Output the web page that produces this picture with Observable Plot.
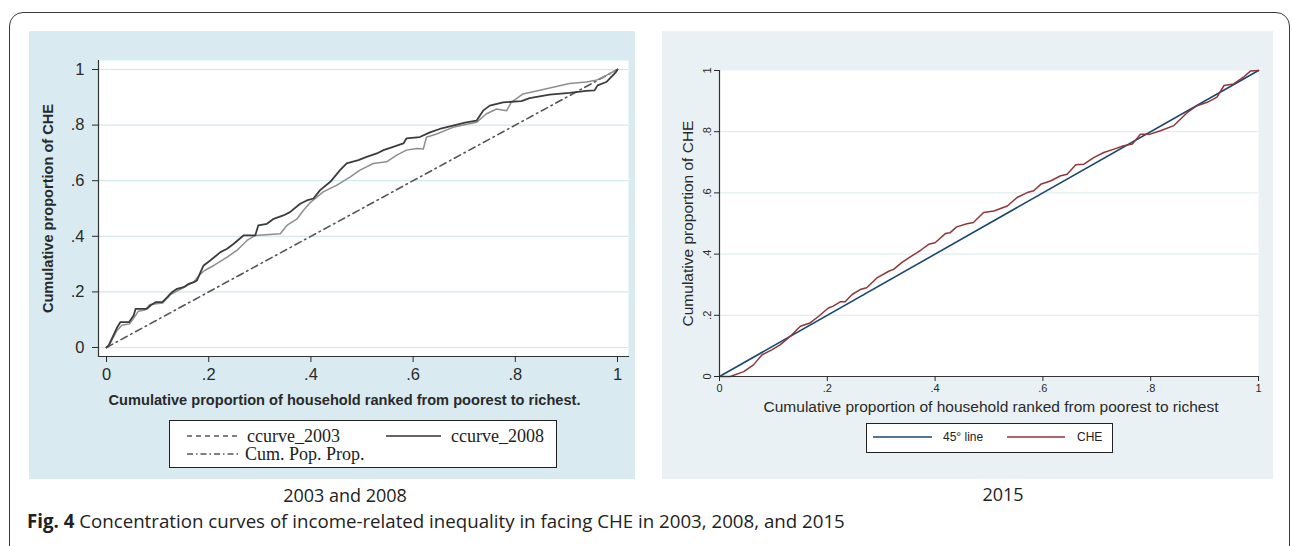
<!DOCTYPE html>
<html>
<head>
<meta charset="utf-8">
<script src="https://cdn.jsdelivr.net/npm/d3@7"></script>
<script src="https://cdn.jsdelivr.net/npm/@observablehq/plot@0.6"></script>
<style>
  body { margin: 0; background: #fff; }
  #page { position: relative; width: 1292px; height: 546px; overflow: hidden; background: #fff; }
  .outer { position: absolute; left: 9px; top: 12px; width: 1281px; height: 620px; border: 1.5px solid #3a3a3a; border-radius: 14px; box-sizing: border-box; }
  .panel { position: absolute; }
  .panel svg { display: block; }
  .legend { position: absolute; background: #fff; border: 1.5px solid #222; box-sizing: border-box; }
  .sub { position: absolute; font-family: "Open Sans", sans-serif; font-size: 18px; color: #222; transform: translate(-50%, -50%); white-space: nowrap; }
  .caption { position: absolute; left: 27px; top: 508px; font-family: "Open Sans", sans-serif; font-size: 18.7px; color: #222; white-space: nowrap; }
</style>
</head>
<body>
<div id="page">
  <div class="outer"></div>
  <div id="left" class="panel" style="left:29px;top:31px;width:606px;height:448px;background:#d9ebf0"></div>
  <div id="right" class="panel" style="left:662px;top:31px;width:611px;height:448px;background:#e9f1f4"></div>
  <div id="legendLeft" class="legend" style="left:169px;top:420px;width:388px;height:48px"></div>
  <div id="legendRight" class="legend" style="left:866px;top:423px;width:247px;height:30px"></div>
  <div class="sub" style="left:345px;top:495px">2003 and 2008</div>
  <div class="sub" style="left:1003px;top:494px">2015</div>
  <div class="caption"><b>Fig. 4</b> Concentration curves of income-related inequality in facing CHE in 2003, 2008, and 2015</div>
</div>
<script>
// Axis ticks shared by both panels
const ticks = [0, 0.2, 0.4, 0.6, 0.8, 1];
const innerTicks = [0.2, 0.4, 0.6, 0.8];

// Concentration curve, 2003 survey: [cumulative share of households, cumulative share of CHE]
const ccurve2003 = [
  [0, 0], [0.006, 0.01], [0.02, 0.06], [0.03, 0.08], [0.045, 0.085], [0.055, 0.11],
  [0.062, 0.13], [0.075, 0.135], [0.085, 0.155], [0.11, 0.16], [0.125, 0.19],
  [0.14, 0.205], [0.155, 0.22], [0.17, 0.235], [0.184, 0.265], [0.192, 0.277],
  [0.21, 0.295], [0.236, 0.325], [0.255, 0.349], [0.275, 0.385], [0.291, 0.403],
  [0.34, 0.409], [0.353, 0.439], [0.373, 0.463], [0.385, 0.493], [0.398, 0.52],
  [0.424, 0.56], [0.451, 0.584], [0.477, 0.614], [0.496, 0.638], [0.522, 0.662],
  [0.548, 0.668], [0.568, 0.692], [0.587, 0.71], [0.607, 0.716], [0.62, 0.714],
  [0.626, 0.756], [0.646, 0.768], [0.678, 0.792], [0.724, 0.81], [0.743, 0.84],
  [0.763, 0.858], [0.783, 0.852], [0.792, 0.882], [0.815, 0.912], [0.848, 0.925],
  [0.874, 0.936], [0.906, 0.95], [0.939, 0.955], [0.958, 0.961], [0.978, 0.979], [1, 1]
];

// Concentration curve, 2008 survey
const ccurve2008 = [
  [0, 0], [0.004, 0.007], [0.021, 0.073], [0.027, 0.091], [0.044, 0.091], [0.053, 0.115],
  [0.057, 0.139], [0.079, 0.139], [0.086, 0.151], [0.096, 0.163], [0.109, 0.163],
  [0.119, 0.181], [0.128, 0.199], [0.138, 0.211], [0.151, 0.217], [0.161, 0.229],
  [0.171, 0.235], [0.177, 0.241], [0.184, 0.271], [0.19, 0.295], [0.203, 0.313],
  [0.223, 0.343], [0.236, 0.355], [0.249, 0.373], [0.268, 0.403], [0.291, 0.403],
  [0.297, 0.439], [0.314, 0.445], [0.327, 0.463], [0.346, 0.475], [0.359, 0.487],
  [0.379, 0.517], [0.392, 0.529], [0.405, 0.536], [0.418, 0.566], [0.438, 0.596],
  [0.457, 0.638], [0.47, 0.662], [0.493, 0.674], [0.509, 0.686], [0.529, 0.698],
  [0.542, 0.71], [0.561, 0.722], [0.581, 0.734], [0.587, 0.752], [0.613, 0.757],
  [0.633, 0.774], [0.652, 0.786], [0.678, 0.798], [0.704, 0.81], [0.724, 0.816],
  [0.737, 0.852], [0.75, 0.87], [0.776, 0.882], [0.812, 0.886], [0.828, 0.897],
  [0.867, 0.91], [0.906, 0.916], [0.939, 0.923], [0.955, 0.925], [0.961, 0.943],
  [0.978, 0.955], [0.997, 0.991], [1, 1]
];

// Concentration curve, 2015 survey
const che2015 = [
  [0, 0], [0.02, 0], [0.045, 0.016], [0.063, 0.038], [0.079, 0.071], [0.097, 0.087],
  [0.113, 0.104], [0.131, 0.131], [0.15, 0.164], [0.168, 0.175], [0.184, 0.197],
  [0.202, 0.224], [0.211, 0.23], [0.224, 0.244], [0.233, 0.244], [0.246, 0.268],
  [0.261, 0.284], [0.273, 0.29], [0.292, 0.322], [0.314, 0.344], [0.323, 0.35],
  [0.338, 0.372], [0.351, 0.388], [0.366, 0.404], [0.375, 0.415], [0.388, 0.432],
  [0.4, 0.437], [0.419, 0.467], [0.428, 0.47], [0.44, 0.489], [0.459, 0.499],
  [0.471, 0.503], [0.49, 0.536], [0.509, 0.541], [0.534, 0.557], [0.552, 0.585],
  [0.571, 0.601], [0.583, 0.607], [0.596, 0.628], [0.614, 0.639], [0.633, 0.656],
  [0.645, 0.661], [0.661, 0.692], [0.676, 0.694], [0.695, 0.716], [0.713, 0.732],
  [0.732, 0.743], [0.75, 0.754], [0.766, 0.76], [0.781, 0.792], [0.799, 0.792],
  [0.818, 0.803], [0.843, 0.82], [0.868, 0.863], [0.886, 0.885], [0.905, 0.896],
  [0.923, 0.913], [0.936, 0.951], [0.954, 0.956], [0.972, 0.978], [0.985, 0.998], [1, 1]
];

// Line of equality (cumulative population proportion)
const equality = [[0, 0], [1, 1]];

const xTitleLeft = "Cumulative proportion of household ranked from poorest to richest.";
const xTitleRight = "Cumulative proportion of household ranked from poorest to richest";
const yTitle = "Cumulative proportion of CHE";

// Stata-style tick labels: 0, .2, .4, ..., 1
const fmt = d => d === 0 ? "0" : d === 1 ? "1" : d3.format(".1f")(d).replace(/^0/, "");
const px = d => d[0], py = d => d[1];

// Left panel: 2003 and 2008
const left = Plot.plot({
  width: 606, height: 448,
  marginLeft: 69, marginRight: 7, marginTop: 29, marginBottom: 123,
  x: {domain: [-0.0157, 1.0215]},
  y: {domain: [-0.0324, 1.0324]},
  style: {background: "transparent", fontFamily: "'Liberation Sans', Arial, sans-serif", color: "#2a2a2a"},
  marks: [
    Plot.frame({fill: "white", stroke: null}),
    Plot.gridY(ticks, {stroke: "#d4e7ed", strokeOpacity: 1, strokeWidth: 1.2}),
    Plot.line(equality, {x: px, y: py, stroke: "#555", strokeWidth: 1.6, strokeDasharray: "7,4,1.5,4"}),
    Plot.line(ccurve2003, {x: px, y: py, stroke: "#8e8e8e", strokeWidth: 1.5}),
    Plot.line(ccurve2008, {x: px, y: py, stroke: "#3c3c3c", strokeWidth: 1.8}),
    Plot.frame({anchor: "left", stroke: "#333", strokeWidth: 1.2}),
    Plot.frame({anchor: "bottom", stroke: "#333", strokeWidth: 1.2}),
    Plot.axisX(ticks, {tickFormat: fmt, tickSize: 6, tickPadding: 6, fontSize: 16.5, label: null}),
    Plot.axisY(ticks, {tickFormat: fmt, tickSize: 6, tickPadding: 8, fontSize: 16.5, label: null}),
    Plot.text([xTitleLeft], {frameAnchor: "bottom", dy: 44, dx: -19, lineAnchor: "middle", textAnchor: "middle", fontWeight: "bold", fontSize: 14.6}),
    Plot.text([yTitle], {frameAnchor: "left", dx: -50, rotate: -90, lineAnchor: "middle", textAnchor: "middle", fontWeight: "bold", fontSize: 14.6})
  ]
});
document.getElementById("left").append(left);

// Right panel: 2015
const right = Plot.plot({
  width: 611, height: 448,
  marginLeft: 57, marginRight: 15, marginTop: 39, marginBottom: 103,
  x: {domain: [0, 1]},
  y: {domain: [0, 1]},
  style: {background: "transparent", fontFamily: "'Liberation Sans', Arial, sans-serif", color: "#2a2a2a"},
  marks: [
    Plot.frame({fill: "white", stroke: null}),
    Plot.gridY(innerTicks, {stroke: "#e2ecef", strokeOpacity: 1, strokeWidth: 1.2}),
    Plot.line(equality, {x: px, y: py, stroke: "#1a476f", strokeWidth: 1.6}),
    Plot.line(che2015, {x: px, y: py, stroke: "#90353b", strokeWidth: 1.5}),
    Plot.frame({anchor: "left", stroke: "#333", strokeWidth: 1.2}),
    Plot.frame({anchor: "bottom", stroke: "#333", strokeWidth: 1.2}),
    Plot.axisX(ticks, {tickFormat: fmt, tickSize: 5, tickPadding: 3, fontSize: 11, label: null}),
    Plot.axisY(ticks, {tickFormat: fmt, tickSize: 5, tickPadding: 4, tickRotate: -90, fontSize: 11, label: null}),
    Plot.text([xTitleRight], {frameAnchor: "bottom", dy: 31, dx: 2, lineAnchor: "middle", textAnchor: "middle", fontSize: 15.5}),
    Plot.text([yTitle], {frameAnchor: "left", dx: -31, rotate: -90, lineAnchor: "middle", textAnchor: "middle", fontSize: 15.5})
  ]
});
document.getElementById("right").append(right);

// Legends
function legend(el, w, h, items, font, size) {
  const svg = d3.select(el).append("svg").attr("width", w - 3).attr("height", h - 3);
  for (const it of items) {
    svg.append("line").attr("x1", it.x).attr("x2", it.x + it.len).attr("y1", it.y).attr("y2", it.y)
      .attr("stroke", it.stroke).attr("stroke-width", it.width).attr("stroke-dasharray", it.dash || null);
    svg.append("text").attr("x", it.x + it.len + it.gap).attr("y", it.y).attr("dy", "0.35em")
      .attr("font-family", font).attr("font-size", size).attr("fill", "#222").text(it.label);
  }
}
legend(document.getElementById("legendLeft"), 388, 48, [
  {x: 17, y: 15, len: 54, gap: 6, stroke: "#555", width: 1.3, dash: "5,4", label: "ccurve_2003"},
  {x: 216, y: 15, len: 55, gap: 10, stroke: "#333", width: 1.6, label: "ccurve_2008"},
  {x: 17, y: 33, len: 54, gap: 4, stroke: "#555", width: 1.3, dash: "6,3,1.5,3", label: "Cum. Pop. Prop."}
], "'Liberation Serif', 'Times New Roman', serif", 18);
legend(document.getElementById("legendRight"), 247, 30, [
  {x: 6, y: 13, len: 59, gap: 11, stroke: "#1a476f", width: 1.6, label: "45° line"},
  {x: 140, y: 13, len: 58, gap: 12, stroke: "#90353b", width: 1.6, label: "CHE"}
], "'Liberation Sans', Arial, sans-serif", 12);
</script>
</body>
</html>
